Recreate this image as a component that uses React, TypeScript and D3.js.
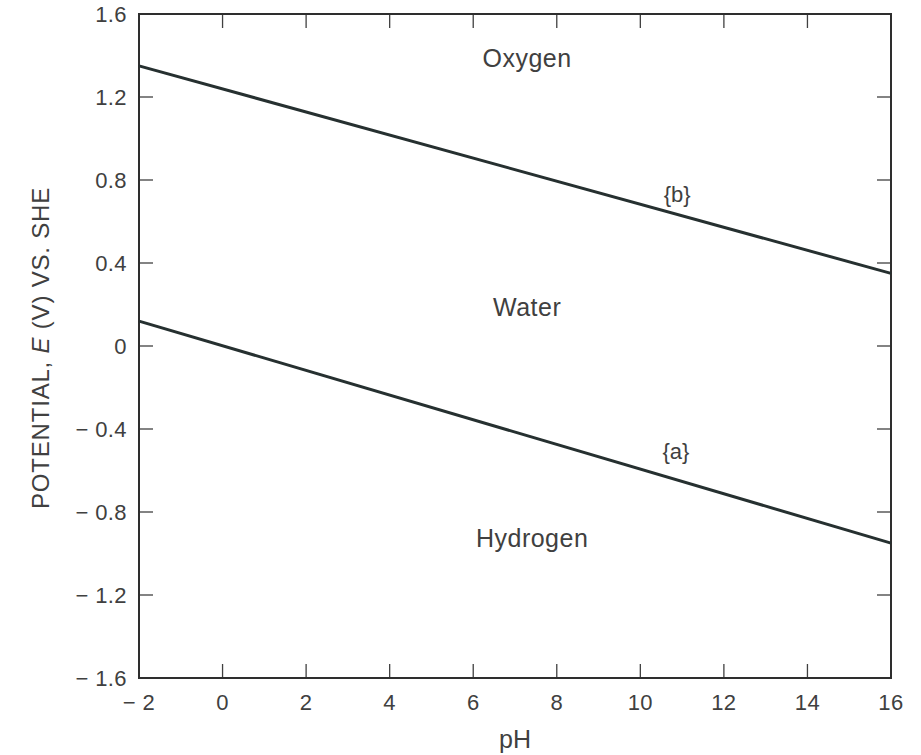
import React from "react";
import * as d3 from "d3";

// pH range and potential range
const xTicks = [-2, 0, 2, 4, 6, 8, 10, 12, 14, 16];
const yTicks = [1.6, 1.2, 0.8, 0.4, 0, -0.4, -0.8, -1.2, -1.6];

// line {a}: hydrogen / water boundary, line {b}: water / oxygen boundary
const lineA: [number, number][] = [[-2, 0.12], [16, -0.95]];
const lineB: [number, number][] = [[-2, 1.35], [16, 0.35]];

const regions = [
  { name: "Oxygen", ph: 7.29, e: 1.39 },
  { name: "Water", ph: 7.29, e: 0.19 },
  { name: "Hydrogen", ph: 7.41, e: -0.925 },
];
const lineLabels = [
  { name: "{b}", ph: 10.88, e: 0.733 },
  { name: "{a}", ph: 10.85, e: -0.506 },
];

const W = 921;
const H = 755;
const m = { top: 14, right: 30, bottom: 77, left: 139 };
const font = "'Liberation Sans', Arial, sans-serif";
const ink = "#404040";

const fmt = (d: number, dec: number) => {
  if (d === 0) return "0";
  const s = Math.abs(d).toFixed(dec);
  return d < 0 ? `\u2212 ${s}` : s;
};

const App = () => {
  const x = d3.scaleLinear().domain([-2, 16]).range([m.left, W - m.right]);
  const y = d3.scaleLinear().domain([-1.6, 1.6]).range([H - m.bottom, m.top]);
  const line = d3
    .line<[number, number]>()
    .x((d) => x(d[0]))
    .y((d) => y(d[1]));
  const tick = 14;

  return (
    <svg
      width={W}
      height={H}
      style={{ position: "absolute", left: 0, top: 0, background: "#fff" }}
      fontFamily={font}
    >
      {/* ticks on all four sides */}
      {xTicks.map((t) => (
        <g key={"x" + t} stroke={ink} strokeWidth={1.3}>
          <line x1={x(t)} x2={x(t)} y1={y(-1.6)} y2={y(-1.6) - tick} />
          <line x1={x(t)} x2={x(t)} y1={y(1.6)} y2={y(1.6) + tick} />
        </g>
      ))}
      {yTicks.map((t) => (
        <g key={"y" + t} stroke={ink} strokeWidth={1.3}>
          <line x1={x(-2)} x2={x(-2) + tick} y1={y(t)} y2={y(t)} />
          <line x1={x(16)} x2={x(16) - tick} y1={y(t)} y2={y(t)} />
        </g>
      ))}
      <rect
        x={x(-2)}
        y={y(1.6)}
        width={x(16) - x(-2)}
        height={y(-1.6) - y(1.6)}
        fill="none"
        stroke="#2e2e2e"
        strokeWidth={2}
      />

      {xTicks.map((t) => (
        <text
          key={"xl" + t}
          x={x(t)}
          y={y(-1.6) + 32}
          textAnchor="middle"
          fontSize={22}
          letterSpacing={0.4}
          fill={ink}
        >
          {fmt(t, 0)}
        </text>
      ))}
      {yTicks.map((t) => (
        <text
          key={"yl" + t}
          x={x(-2) - 12}
          y={y(t)}
          dy="0.36em"
          textAnchor="end"
          fontSize={22}
          letterSpacing={0.4}
          fill={ink}
        >
          {fmt(t, 1)}
        </text>
      ))}

      <path d={line(lineA) || ""} fill="none" stroke="#263030" strokeWidth={3} />
      <path d={line(lineB) || ""} fill="none" stroke="#263030" strokeWidth={3} />

      {regions.map((r) => (
        <text
          key={r.name}
          x={x(r.ph)}
          y={y(r.e)}
          dy="0.36em"
          textAnchor="middle"
          fontSize={25}
          letterSpacing={0.5}
          fill={ink}
        >
          {r.name}
        </text>
      ))}
      {lineLabels.map((r) => (
        <text
          key={r.name}
          x={x(r.ph)}
          y={y(r.e)}
          dy="0.36em"
          textAnchor="middle"
          fontSize={22}
          fill={ink}
        >
          {r.name}
        </text>
      ))}

      <text
        x={(x(-2) + x(16)) / 2}
        y={748}
        textAnchor="middle"
        fontSize={25}
        fill={ink}
      >
        pH
      </text>
      <text
        transform={`translate(40, 348) rotate(-90)`}
        textAnchor="middle"
        dy="0.36em"
        fontSize={24}
        letterSpacing={0.8}
        fill={ink}
      >
        POTENTIAL, <tspan fontStyle="italic">E</tspan> (V) VS. SHE
      </text>
    </svg>
  );
};

export default App;
